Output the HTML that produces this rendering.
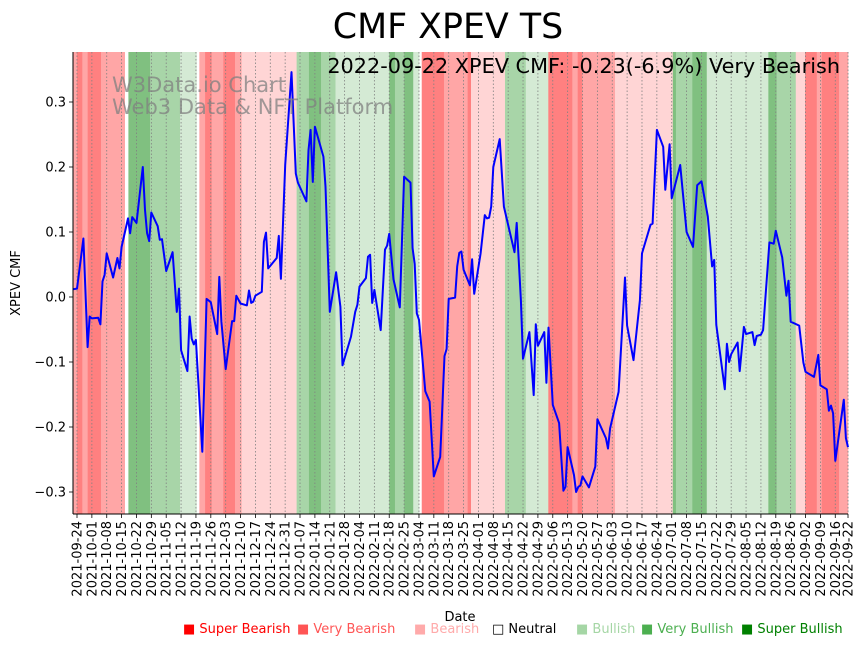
<!DOCTYPE html>
<html><head><meta charset="utf-8"><style>
html,body{margin:0;padding:0;background:#fff;}
svg{display:block;font-family:"DejaVu Sans","Liberation Sans",sans-serif;}
</style></head><body>
<svg id="chart" width="867" height="646" viewBox="0 0 867 646" xmlns="http://www.w3.org/2000/svg">
<rect x="0" y="0" width="867" height="646" fill="#fff"/>
<g id="bands"></g>
<g id="grid"></g>
<g id="series"></g>
<text x="112" y="92" font-size="21" fill="#808080" fill-opacity="0.75">W3Data.io Chart</text>
<text x="112" y="114" font-size="21" fill="#808080" fill-opacity="0.75">Web3 Data &amp; NFT Platform</text>
<text x="840" y="73" font-size="20.8" text-anchor="end" fill="#000">2022-09-22 XPEV CMF: -0.23(-6.9%) Very Bearish</text>
<text x="448" y="38" font-size="34.8" text-anchor="middle" fill="#000">CMF XPEV TS</text>
<g id="axes"></g>
<text transform="translate(20,283) rotate(-90)" font-size="13" text-anchor="middle">XPEV CMF</text>
<text x="460" y="621" font-size="13" text-anchor="middle">Date</text>
<g font-size="13">
  <text x="183" y="633" fill="#ff0000">■ Super Bearish</text>
  <text x="297" y="633" fill="#ff5555">■ Very Bearish</text>
  <text x="414" y="633" fill="#ffaaaa">■ Bearish</text>
  <text x="492" y="633" fill="#000">□ Neutral</text>
  <text x="576" y="633" fill="#a5d6a5">■ Bullish</text>
  <text x="641" y="633" fill="#4caf50">■ Very Bullish</text>
  <text x="741" y="633" fill="#008000">■ Super Bullish</text>
</g>
</svg>
<script>
// day offsets from 2021-09-24
const days = [-2,0,3,5,6,7,10,11,12,13,14,17,19,20,21,24,25,26,28,31,32,33,34,35,38,39,40,42,45,47,48,49,52,53,54,55,56,59,61,63,66,67,68,70,73,74,75,77,80,81,82,83,84,87,88,89,90,94,95,96,98,101,103,104,108,109,110,111,112,116,117,119,122,124,125,129,131,132,133,136,137,138,139,140,143,145,146,147,149,152,154,157,158,159,160,161,164,166,168,171,173,174,175,178,179,180,181,182,185,186,187,190,192,193,194,195,196,199,201,206,207,209,210,213,215,216,217,220,221,222,224,227,229,230,231,234,235,236,237,238,241,244,245,249,250,251,255,258,259,262,265,266,270,271,273,276,277,279,280,284,287,290,292,294,297,299,300,301,305,306,307,308,311,312,314,315,318,319,320,322,323,326,328,329,332,334,335,336,340,342,343,347,349,350,353,354,355,356,357,361,362,363];
const cmf = [0.012,0.013,0.09,-0.077,-0.03,-0.033,-0.032,-0.042,0.024,0.034,0.067,0.03,0.06,0.044,0.077,0.121,0.098,0.123,0.114,0.2,0.134,0.098,0.086,0.13,0.109,0.088,0.089,0.04,0.069,-0.023,0.013,-0.082,-0.114,-0.03,-0.064,-0.073,-0.066,-0.238,-0.003,-0.008,-0.057,0.031,-0.038,-0.111,-0.037,-0.037,0.002,-0.01,-0.013,0.01,-0.009,-0.007,0.002,0.008,0.085,0.099,0.044,0.06,0.094,0.028,0.203,0.346,0.19,0.176,0.147,0.226,0.257,0.177,0.262,0.216,0.17,-0.023,0.038,-0.015,-0.105,-0.061,-0.023,-0.012,0.016,0.029,0.062,0.065,-0.009,0.011,-0.051,0.073,0.079,0.097,0.027,-0.016,0.185,0.176,0.075,0.051,-0.025,-0.035,-0.145,-0.161,-0.276,-0.246,-0.091,-0.08,-0.003,-0.001,0.047,0.068,0.07,0.042,0.018,0.058,0.005,0.067,0.126,0.121,0.122,0.139,0.2,0.243,0.139,0.069,0.114,-0.005,-0.095,-0.054,-0.151,-0.042,-0.075,-0.054,-0.132,-0.047,-0.166,-0.194,-0.298,-0.292,-0.231,-0.274,-0.3,-0.292,-0.29,-0.276,-0.293,-0.261,-0.188,-0.217,-0.233,-0.202,-0.146,0.03,-0.044,-0.097,-0.005,0.067,0.111,0.113,0.257,0.231,0.165,0.235,0.152,0.203,0.1,0.077,0.172,0.178,0.124,0.047,0.057,-0.043,-0.142,-0.072,-0.1,-0.088,-0.07,-0.114,-0.046,-0.057,-0.054,-0.074,-0.06,-0.058,-0.051,0.084,0.082,0.102,0.061,0.002,0.025,-0.038,-0.044,-0.101,-0.115,-0.123,-0.089,-0.136,-0.142,-0.175,-0.167,-0.179,-0.252,-0.158,-0.217,-0.231];
const bandStart = [-2,0,2.5,5,11.3,22.6,24.2,34.4,48.5,56.4,57.6,60.3,63.4,68.9,74.4,77.5,103.4,109.2,114.9,121.7,147,149.7,154,158.3,161.2,162.3,172.8,183.9,185.5,201.5,211.3,221.9,233.2,235.7,237.9,253.3,280.5,282,289.7,296.5,325.5,329.4,338.4,342.8,348.3,350.6,358.8];
const bandEnd   = [0,2.5,5,11.3,22.6,24.2,34.4,48.5,56.4,57.6,60.3,63.4,68.9,74.4,77.5,103.4,109.2,114.9,121.7,147,149.7,154,158.3,161.2,162.3,172.8,183.9,185.5,201.5,211.3,221.9,233.2,235.7,237.9,253.3,280.5,282,289.7,296.5,325.5,329.4,338.4,342.8,348.3,350.6,358.8,363];
const bandLevel = [-2,-3,-2,-3,-2,0,3,2,1,0,-2,-3,-2,-3,-2,-1,2,3,2,1,3,2,3,1,0,-3,-2,-3,-1,2,1,-3,-2,-3,-2,-1,3,2,3,1,3,2,-1,-3,-2,-3,-2];
const yTicks = [0.3,0.2,0.1,0.0,-0.1,-0.2,-0.3];
const yTickLabels = ["0.3","0.2","0.1","0.0","−0.1","−0.2","−0.3"];
const tickDays = [];
for (let d = 0; d <= 357; d += 7) tickDays.push(d);
tickDays.push(363);

const NS = "http://www.w3.org/2000/svg";
const X0 = 77, PXD = 2.124, TOP = 52, BOT = 514, LEFT = 73, RIGHT = 848;
const xs = d => X0 + d * PXD;
const ys = v => 297 - v * 650;
const levelColor = {"-3":"#ff8080","-2":"#ffa6a6","-1":"#ffd5d5","0":"#ffffff","1":"#d4ead4","2":"#a8d5a8","3":"#80c080"};
function mk(tag, attrs, parent){const e=document.createElementNS(NS,tag);for(const k in attrs)e.setAttribute(k,attrs[k]);parent.appendChild(e);return e;}

const bandsG = document.getElementById('bands');
for (let i = 0; i < bandLevel.length; i++) {
  const x1 = Math.max(LEFT, xs(bandStart[i])), x2 = Math.min(RIGHT, xs(bandEnd[i]));
  const r = mk('rect', {x:x1, y:TOP, width:Math.max(0,x2-x1)+0.3, height:BOT-TOP, fill:levelColor[bandLevel[i]]}, bandsG);
  
  
}
const gridG = document.getElementById('grid');
const axesG = document.getElementById('axes');
function fmt(d){const t=new Date(Date.UTC(2021,8,24)+d*86400000);return t.toISOString().slice(0,10);}
tickDays.forEach(d => {
  const x = xs(d);
  const g = mk('line', {x1:x, x2:x, y1:TOP, y2:BOT, stroke:'#808080', 'stroke-width':0.8, 'stroke-dasharray':'1.5,2'}, gridG);
  
  
  const t = mk('line', {x1:x, x2:x, y1:BOT, y2:BOT+4, stroke:'#000', 'stroke-width':0.8}, axesG);
  
  
  const lb = mk('text', {transform:`translate(${x+4.5},${BOT+7}) rotate(-90)`, 'font-size':13, 'text-anchor':'end'}, axesG);
  lb.textContent = fmt(d);
  
  
});
yTicks.forEach((v, i) => {
  const y = ys(v);
  const t = mk('line', {x1:LEFT-4, x2:LEFT, y1:y, y2:y, stroke:'#000', 'stroke-width':0.8}, axesG);
  
  
  const lb = mk('text', {x:LEFT-7, y:y+4.5, 'font-size':13, 'text-anchor':'end'}, axesG);
  lb.textContent = yTickLabels[i];
  
  
});
const sp1 = mk('line', {x1:LEFT, x2:LEFT, y1:TOP, y2:BOT, stroke:'#000', 'stroke-width':1}, axesG);


const sp2 = mk('line', {x1:LEFT, x2:RIGHT, y1:BOT, y2:BOT, stroke:'#000', 'stroke-width':1}, axesG);



const pts = days.map((d, i) => `${Math.max(LEFT, xs(d)).toFixed(1)},${ys(cmf[i]).toFixed(1)}`).join(' ');
const line = mk('polyline', {points:pts, fill:'none', stroke:'#0000ff', 'stroke-width':2, 'stroke-linejoin':'round'}, document.getElementById('series'));


</script>
</body></html>
